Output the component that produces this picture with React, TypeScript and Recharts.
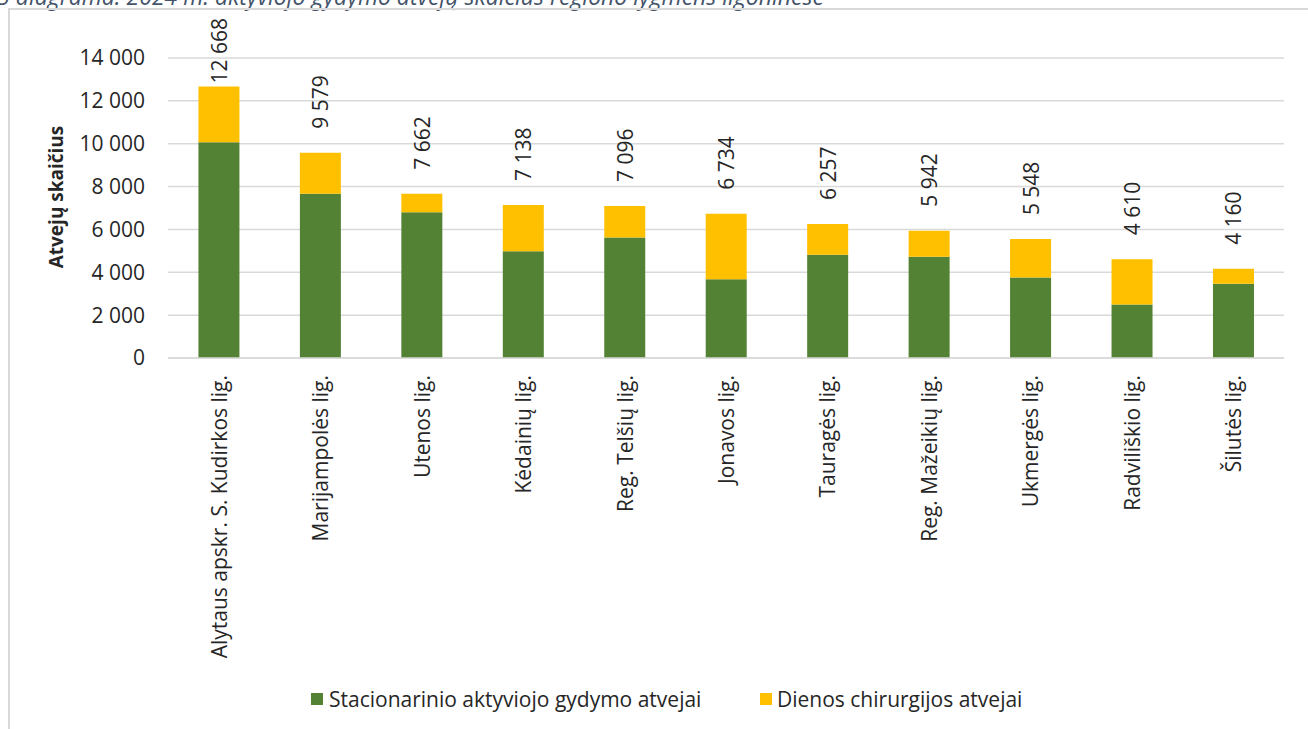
import React from 'react';
import { BarChart, Bar, XAxis, YAxis, CartesianGrid, Legend, LabelList } from 'recharts';

const hospitals = [
  'Alytaus apskr. S. Kudirkos lig.',
  'Marijampolės lig.',
  'Utenos lig.',
  'Kėdainių lig.',
  'Reg. Telšių lig.',
  'Jonavos lig.',
  'Tauragės lig.',
  'Reg. Mažeikių lig.',
  'Ukmergės lig.',
  'Radviliškio lig.',
  'Šilutės lig.',
];

// stacionarinio aktyviojo gydymo atvejai
const inpatient = [10070, 7665, 6800, 4980, 5620, 3670, 4820, 4730, 3760, 2500, 3465];
// dienos chirurgijos atvejai
const daySurgery = [2598, 1914, 862, 2158, 1476, 3064, 1437, 1212, 1788, 2110, 695];

const yTicks = [0, 2000, 4000, 6000, 8000, 10000, 12000, 14000];

const GREEN = '#548235';
const YELLOW = '#FFC000';
const GRID = '#d9d9d9';
const TEXT = '#262626';
const FONT = '"Open Sans", sans-serif';

const data = hospitals.map((name, i) => ({
  name,
  inpatient: inpatient[i],
  daySurgery: daySurgery[i],
  total: inpatient[i] + daySurgery[i],
}));

const fmt = (n: number) => String(n).replace(/\B(?=(\d{3})+(?!\d))/g, ' ');

const CategoryTick = (props: any) => {
  const { x, y, payload } = props;
  const tx = x + 8;
  const ty = y + 17;
  return (
    <text x={tx} y={ty} transform={`rotate(-90, ${tx}, ${ty})`} textAnchor="end"
      fontFamily={FONT} fontSize={21} fill={TEXT}>
      {payload.value}
    </text>
  );
};

const TotalLabel = (props: any) => {
  const { x, y, width, index } = props;
  const label = fmt(data[index].total);
  const digits = label.replace(/ /g, '').length;
  const spaces = label.length - digits;
  const len = (digits * 0.572 + spaces * 0.26) * 21;
  const cx = x + width / 2 + 8;
  let ty = y - 24;
  let anchor: 'start' | 'end' = 'start';
  // keep the tallest label inside the chart area
  if (ty - len < 18) {
    ty = 18;
    anchor = 'end';
  }
  return (
    <text x={cx} y={ty} transform={`rotate(-90, ${cx}, ${ty})`} textAnchor={anchor}
      fontFamily={FONT} fontSize={21} fill={TEXT}>
      {label}
    </text>
  );
};

const LegendBox = () => (
  <div style={{ height: 40, position: 'relative', fontFamily: FONT, fontSize: 21, color: TEXT }}>
    <div style={{ position: 'absolute', left: 311, top: 8, display: 'flex', alignItems: 'center' }}>
      <span style={{ width: 12, height: 12, background: GREEN, marginRight: 6, display: 'inline-block' }} />
      <span style={{ lineHeight: '24px' }}>Stacionarinio aktyviojo gydymo atvejai</span>
    </div>
    <div style={{ position: 'absolute', left: 760, top: 8, display: 'flex', alignItems: 'center' }}>
      <span style={{ width: 12, height: 12, background: YELLOW, marginRight: 5, display: 'inline-block' }} />
      <span style={{ lineHeight: '24px' }}>Dienos chirurgijos atvejai</span>
    </div>
  </div>
);

export default function App() {
  return (
    <div style={{ position: 'absolute', left: 0, top: 0, width: 1308, height: 729, overflow: 'hidden', background: '#fff' }}>
      <svg width={1308} height={12} style={{ position: 'absolute', left: 0, top: 0 }}>
        <text x={-3} y={5} fontFamily={FONT} fontStyle="italic" fontSize={23} fill="#44546A">
          5 diagrama. 2024 m. aktyviojo gydymo atvejų skaičius regiono lygmens ligoninėse
        </text>
      </svg>
      <div style={{ position: 'absolute', left: 8, top: 8, width: 1400, height: 800, border: `2px solid ${GRID}`, boxSizing: 'border-box' }} />
      <div style={{ position: 'absolute', left: 0, top: 0 }}>
        <BarChart width={1308} height={729} data={data}
          margin={{ top: 58, right: 24, left: 0, bottom: 10 }} barCategoryGap="30%">
          <CartesianGrid vertical={false} stroke={GRID} strokeWidth={1.5} />
          <XAxis dataKey="name" interval={0} height={321} tickSize={0} tickMargin={0}
            axisLine={{ stroke: GRID, strokeWidth: 1.5 }} tickLine={false} tick={<CategoryTick />} />
          <YAxis width={168} domain={[0, 14000]} ticks={yTicks} tickFormatter={fmt}
            axisLine={false} tickLine={false} tickSize={0} tickMargin={23}
            tick={{ fontFamily: FONT, fontSize: 21, fill: TEXT }} />
          <Legend verticalAlign="bottom" wrapperStyle={{ left: 0, width: 1308 }} content={<LegendBox />} />
          <Bar dataKey="inpatient" stackId="a" fill={GREEN} isAnimationActive={false} />
          <Bar dataKey="daySurgery" stackId="a" fill={YELLOW} isAnimationActive={false}>
            <LabelList dataKey="total" content={<TotalLabel />} />
          </Bar>
        </BarChart>
      </div>
      <svg width={100} height={400} style={{ position: 'absolute', left: 0, top: 0 }}>
        <text x={63} y={197} transform="rotate(-90, 63, 197)" textAnchor="middle"
          fontFamily={FONT} fontWeight="bold" fontSize={19} fill={TEXT}>
          Atvejų skaičius
        </text>
      </svg>
    </div>
  );
}
